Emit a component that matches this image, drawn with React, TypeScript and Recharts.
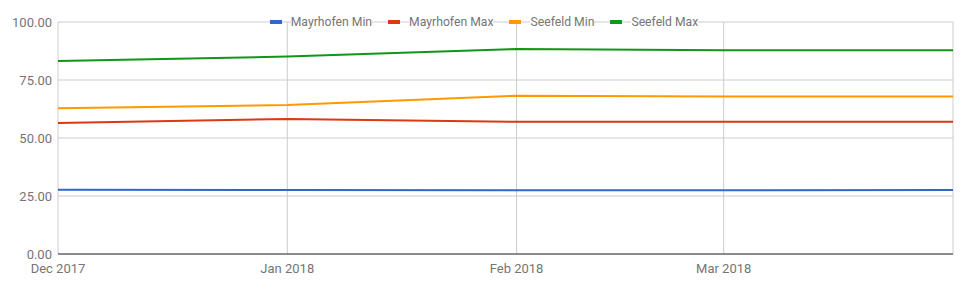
import React from 'react';
import { LineChart, Line, XAxis, YAxis, CartesianGrid } from 'recharts';

const months = ['2017-12-01', '2018-01-01', '2018-02-01', '2018-03-01', '2018-04-01'];
const monthLabels = ['Dec 2017', 'Jan 2018', 'Feb 2018', 'Mar 2018', ''];

const mayrhofenMin = [27.7, 27.6, 27.5, 27.5, 27.6];
const mayrhofenMax = [56.5, 58.2, 57.0, 57.0, 57.0];
const seefeldMin = [62.8, 64.2, 68.2, 67.9, 67.9];
const seefeldMax = [83.2, 85.1, 88.4, 87.8, 87.8];

const yTicks = [0, 25, 50, 75, 100];

const SERIES = [
  { key: 'mayrhofenMin', name: 'Mayrhofen Min', color: '#3366cc' },
  { key: 'mayrhofenMax', name: 'Mayrhofen Max', color: '#dc3912' },
  { key: 'seefeldMin', name: 'Seefeld Min', color: '#ff9900' },
  { key: 'seefeldMax', name: 'Seefeld Max', color: '#109618' },
];

const times = months.map((m) => Date.parse(m + 'T00:00:00Z'));

const data = times.map((t, i) => ({
  t,
  mayrhofenMin: mayrhofenMin[i],
  mayrhofenMax: mayrhofenMax[i],
  seefeldMin: seefeldMin[i],
  seefeldMax: seefeldMax[i],
}));

const FONT = 'Roboto, Arial, sans-serif';
const TEXT = '#757575';

export default function App() {
  return (
    <div style={{ position: 'absolute', left: 0, top: 0, width: 968, height: 290, fontFamily: FONT }}>
      <LineChart width={968} height={290} data={data} margin={{ top: 22, right: 15, bottom: 0, left: 0 }}>
        <CartesianGrid stroke="#cccccc" strokeWidth={1} />
        <XAxis
          dataKey="t"
          type="number"
          scale="time"
          domain={[times[0], times[times.length - 1]]}
          ticks={times}
          tickFormatter={(v: number) => monthLabels[times.indexOf(v)] ?? ''}
          tick={{ fill: TEXT, fontSize: 13, fontFamily: FONT }}
          tickLine={false}
          tickSize={0}
          tickMargin={10}
          axisLine={{ stroke: '#333333', strokeWidth: 1 }}
          height={36}
          interval={0}
        />
        <YAxis
          domain={[0, 100]}
          ticks={yTicks}
          tickFormatter={(v: number) => v.toFixed(2)}
          tick={{ fill: TEXT, fontSize: 13, fontFamily: FONT }}
          tickLine={false}
          tickSize={0}
          tickMargin={6}
          axisLine={false}
          width={58}
        />
        {SERIES.map((s) => (
          <Line
            key={s.key}
            type="linear"
            dataKey={s.key}
            name={s.name}
            stroke={s.color}
            strokeWidth={2}
            dot={false}
            isAnimationActive={false}
          />
        ))}
      </LineChart>
      {/* legend sits on the top gridline, like the original */}
      <div
        style={{
          position: 'absolute',
          top: 14,
          left: 0,
          width: 968,
          display: 'flex',
          justifyContent: 'center',
          gap: 16,
          fontSize: 12.2,
          color: TEXT,
          lineHeight: '16px',
        }}
      >
        {SERIES.map((s) => (
          <div key={s.key} style={{ display: 'flex', alignItems: 'center' }}>
            <span style={{ display: 'inline-block', width: 12, height: 4, background: s.color, marginRight: 9 }} />
            <span style={{ background: '#fff' }}>{s.name}</span>
          </div>
        ))}
      </div>
    </div>
  );
}
